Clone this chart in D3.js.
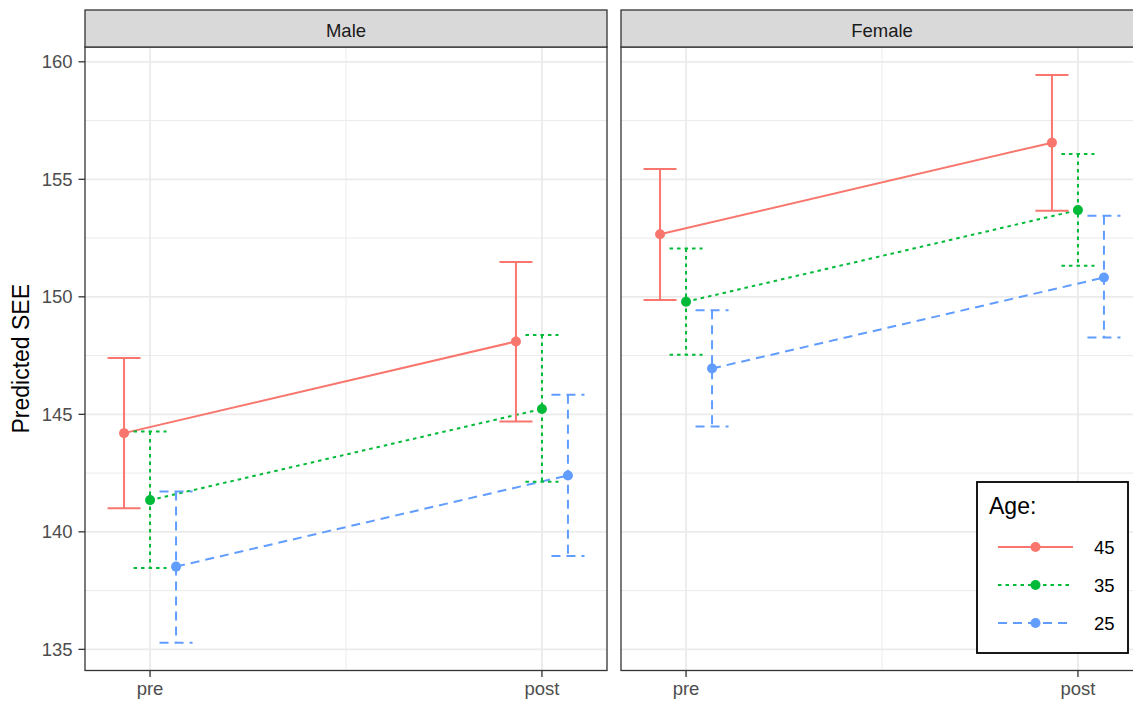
<!DOCTYPE html>
<html>
<head>
<meta charset="utf-8">
<script src="https://cdn.jsdelivr.net/npm/d3@7"></script>
<style>
  body { margin: 0; background: #fff; }
  svg { display: block; font-family: "Liberation Sans", Arial, Helvetica, sans-serif; }
</style>
</head>
<body>
<script>
// ===== data =====
const sexes = ["Male", "Female"]
const times = ["pre", "post"]
const ages = ["45", "35", "25"]
const yTicks = [135, 140, 145, 150, 155, 160]
const yMinor = [137.5, 142.5, 147.5, 152.5, 157.5]

// rows follow ages (45, 35, 25), columns follow times (pre, post)
const maleFit  = [[144.2, 148.1], [141.35, 145.23], [138.52, 142.4]]
const maleLow  = [[141.0, 144.69], [138.46, 142.13], [135.28, 138.97]]
const maleHigh = [[147.4, 151.48], [144.27, 148.38], [141.72, 145.83]]

const femaleFit  = [[152.66, 156.56], [149.79, 153.69], [146.95, 150.82]]
const femaleLow  = [[149.86, 153.66], [147.54, 151.32], [144.48, 148.27]]
const femaleHigh = [[155.44, 159.44], [152.06, 156.08], [149.43, 153.45]]

const colors = ["#F8766D", "#00BA38", "#619CFF"]
const dashes = [null, "3.5,4", "9,6"]

// ===== layout =====
const W = 1133, H = 702
const panelW = 522
const panelX = [85, 621]
const stripTop = 10, panelTop = 47, panelBottom = 670.5
const font = 18.5

const svg = d3.select("body").append("svg").attr("width", W).attr("height", H)

const y = d3.scaleLinear().domain([134.1, 160.63]).range([panelBottom, panelTop])
const x = d3.scalePoint().domain(times).range([0, panelW]).padding(0.166)
const dodge = d3.scalePoint().domain(ages).range([-26, 26])

const fits = [maleFit, femaleFit]
const lows = [maleLow, femaleLow]
const highs = [maleHigh, femaleHigh]

sexes.forEach((sex, s) => {
  const g = svg.append("g").attr("transform", `translate(${panelX[s]},0)`)

  // panel background + grid
  g.append("rect").attr("x", 0).attr("y", panelTop).attr("width", panelW)
    .attr("height", panelBottom - panelTop).attr("fill", "#fff")

  g.selectAll(".ymin").data(yMinor).join("line")
    .attr("x1", 0).attr("x2", panelW).attr("y1", d => y(d)).attr("y2", d => y(d))
    .attr("stroke", "#EBEBEB").attr("stroke-width", 1)
  g.append("line")
    .attr("x1", (x("pre") + x("post")) / 2).attr("x2", (x("pre") + x("post")) / 2)
    .attr("y1", panelTop).attr("y2", panelBottom)
    .attr("stroke", "#EBEBEB").attr("stroke-width", 1)
  g.selectAll(".ymaj").data(yTicks).join("line")
    .attr("x1", 0).attr("x2", panelW).attr("y1", d => y(d)).attr("y2", d => y(d))
    .attr("stroke", "#EBEBEB").attr("stroke-width", 1.8)
  g.selectAll(".xmaj").data(times).join("line")
    .attr("x1", d => x(d)).attr("x2", d => x(d)).attr("y1", panelTop).attr("y2", panelBottom)
    .attr("stroke", "#EBEBEB").attr("stroke-width", 1.8)

  const px = (t, a) => x(times[t]) + dodge(ages[a])

  // lines
  ages.forEach((age, a) => {
    g.append("path")
      .datum(times.map((t, i) => [px(i, a), y(fits[s][a][i])]))
      .attr("d", d3.line())
      .attr("fill", "none").attr("stroke", colors[a]).attr("stroke-width", 2)
      .attr("stroke-dasharray", dashes[a])
  })

  // error bars
  ages.forEach((age, a) => {
    times.forEach((t, i) => {
      const cx = px(i, a)
      const p = d3.path()
      p.moveTo(cx - 16.5, y(highs[s][a][i])); p.lineTo(cx + 16.5, y(highs[s][a][i]))
      p.moveTo(cx, y(highs[s][a][i])); p.lineTo(cx, y(lows[s][a][i]))
      p.moveTo(cx - 16.5, y(lows[s][a][i])); p.lineTo(cx + 16.5, y(lows[s][a][i]))
      g.append("path").attr("d", p.toString())
        .attr("fill", "none").attr("stroke", colors[a]).attr("stroke-width", 2)
        .attr("stroke-dasharray", dashes[a])
    })
  })

  // points
  ages.forEach((age, a) => {
    g.selectAll(null).data(times).join("circle")
      .attr("cx", (t, i) => px(i, a)).attr("cy", (t, i) => y(fits[s][a][i]))
      .attr("r", 5).attr("fill", colors[a])
  })

  // panel border
  g.append("rect").attr("x", 0).attr("y", panelTop).attr("width", panelW)
    .attr("height", panelBottom - panelTop)
    .attr("fill", "none").attr("stroke", "#333333").attr("stroke-width", 1.3)

  // strip
  g.append("rect").attr("x", 0).attr("y", stripTop).attr("width", panelW)
    .attr("height", panelTop - stripTop)
    .attr("fill", "#D9D9D9").attr("stroke", "#333333").attr("stroke-width", 1.3)
  g.append("text").attr("x", panelW / 2).attr("y", 36.5)
    .attr("text-anchor", "middle").attr("font-size", font).attr("fill", "#1A1A1A")
    .text(sex)

  // x axis
  g.selectAll(".xt").data(times).join("line")
    .attr("x1", d => x(d)).attr("x2", d => x(d))
    .attr("y1", panelBottom).attr("y2", panelBottom + 6.5)
    .attr("stroke", "#333333").attr("stroke-width", 1.3)
  g.selectAll(".xl").data(times).join("text")
    .attr("x", d => x(d)).attr("y", 695)
    .attr("text-anchor", "middle").attr("font-size", font).attr("fill", "#4D4D4D")
    .text(d => d)
})

// y axis (left panel only)
const ya = svg.append("g")
ya.selectAll("line").data(yTicks).join("line")
  .attr("x1", 78.5).attr("x2", panelX[0]).attr("y1", d => y(d)).attr("y2", d => y(d))
  .attr("stroke", "#333333").attr("stroke-width", 1.3)
ya.selectAll("text").data(yTicks).join("text")
  .attr("x", 72.5).attr("y", d => y(d)).attr("dy", "0.36em")
  .attr("text-anchor", "end").attr("font-size", font).attr("fill", "#4D4D4D")
  .text(d => d)

svg.append("text")
  .attr("transform", `translate(29,${(panelTop + panelBottom) / 2}) rotate(-90)`)
  .attr("text-anchor", "middle").attr("font-size", 23).attr("fill", "#000")
  .text("Predicted SEE")

// legend
const leg = svg.append("g").attr("transform", "translate(977,482)")
leg.append("rect").attr("width", 151).attr("height", 171)
  .attr("fill", "#fff").attr("stroke", "#000").attr("stroke-width", 1.8)
leg.append("text").attr("x", 12).attr("y", 32).attr("font-size", 23).text("Age:")
ages.forEach((age, a) => {
  const ry = 65 + a * 38
  leg.append("line").attr("x1", 21).attr("x2", 96).attr("y1", ry).attr("y2", ry)
    .attr("stroke", colors[a]).attr("stroke-width", 2).attr("stroke-dasharray", dashes[a])
  leg.append("circle").attr("cx", 58.5).attr("cy", ry).attr("r", 5).attr("fill", colors[a])
  leg.append("text").attr("x", 117).attr("y", ry).attr("dy", "0.36em")
    .attr("font-size", font).attr("fill", "#000").text(age)
})
</script>
</body>
</html>
